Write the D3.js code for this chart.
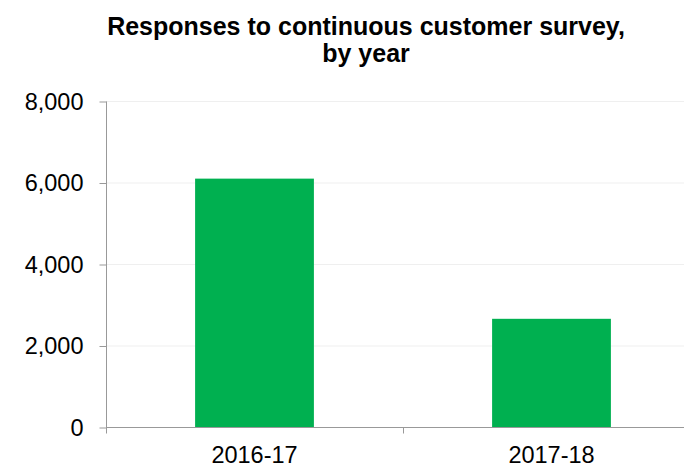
<!DOCTYPE html>
<html>
<head>
<meta charset="utf-8">
<script src="https://cdn.jsdelivr.net/npm/d3@7/dist/d3.min.js"></script>
<style>
    body { margin: 0; background: #fff; }
    text { font-family: "Liberation Sans", Arial, sans-serif; fill: #000; }
</style>
</head>
<body>
<svg id="chart" width="684" height="467"></svg>
<script>
// chart data
var years = ["2016-17", "2017-18"],
    responses = [6095, 2655],
    yTicks = [0, 2000, 4000, 6000, 8000],
    titleLines = ["Responses to continuous customer survey,", "by year"];

var svg = d3.select("#chart"),
    plotLeft = 106,
    plotRight = 700,
    plotTop = 101,
    plotBottom = 427;

var x = d3.scaleBand()
    .domain(years)
    .range([plotLeft, plotRight])
    .paddingInner(0.6)
    .paddingOuter(0.3);
var y = d3.scaleLinear()
    .domain([0, 8000])
    .range([plotBottom, plotTop]);

//title
svg.append("g")
    .selectAll("text")
    .data(titleLines)
    .enter().append("text")
        .attr("x", 366)
        .attr("y", function (d, i) { return 35 + i * 27; })
        .attr("text-anchor", "middle")
        .attr("font-weight", "bold")
        .attr("font-size", 25)
        .text(function (d) { return d; });

//gridlines
svg.append("g")
    .selectAll("line")
    .data(yTicks.slice(1))
    .enter().append("line")
        .attr("x1", plotLeft)
        .attr("x2", plotRight)
        .attr("y1", function (d) { return y(d) + 0.5; })
        .attr("y2", function (d) { return y(d) + 0.5; })
        .attr("stroke", "#efefef")
        .attr("stroke-width", 1);

//bars
svg.append("g")
    .selectAll("rect")
    .data(responses)
    .enter().append("rect")
        .attr("x", function (d, i) { return x(years[i]); })
        .attr("y", function (d) { return y(d); })
        .attr("width", x.bandwidth())
        .attr("height", function (d) { return plotBottom - y(d); })
        .attr("fill", "#00b050");

//y axis
var yAxis = d3.axisLeft(y)
    .tickValues(yTicks)
    .tickSize(7)
    .tickPadding(16)
    .tickFormat(d3.format(","));
var yg = svg.append("g")
    .attr("transform", "translate(" + (plotLeft + 0.5) + ",0.5)")
    .call(yAxis);
yg.select(".domain").attr("stroke", "#999").attr("d", "M0," + plotTop + "V" + plotBottom);
yg.selectAll(".tick line").attr("stroke", "#999");
yg.selectAll(".tick text")
    .attr("font-size", 23.5)
    .attr("font-family", "Liberation Sans, Arial, sans-serif")
    .attr("fill", "#000");

//x axis, ticks at category boundaries
var xg = svg.append("g")
    .attr("transform", "translate(0," + (plotBottom + 0.5) + ")");
xg.append("line")
    .attr("x1", plotLeft)
    .attr("x2", plotRight)
    .attr("stroke", "#999");
xg.selectAll(".xtick")
    .data([plotLeft, (x(years[0]) + x.bandwidth() + x(years[1])) / 2, plotRight])
    .enter().append("line")
        .attr("class", "xtick")
        .attr("x1", function (d) { return Math.round(d) + 0.5; })
        .attr("x2", function (d) { return Math.round(d) + 0.5; })
        .attr("y1", 0)
        .attr("y2", 6)
        .attr("stroke", "#999");
xg.selectAll(".xlabel")
    .data(years)
    .enter().append("text")
        .attr("class", "xlabel")
        .attr("x", function (d) { return x(d) + x.bandwidth() / 2; })
        .attr("y", 35)
        .attr("text-anchor", "middle")
        .attr("font-size", 23.5)
        .text(function (d) { return d; });
</script>
</body>
</html>
